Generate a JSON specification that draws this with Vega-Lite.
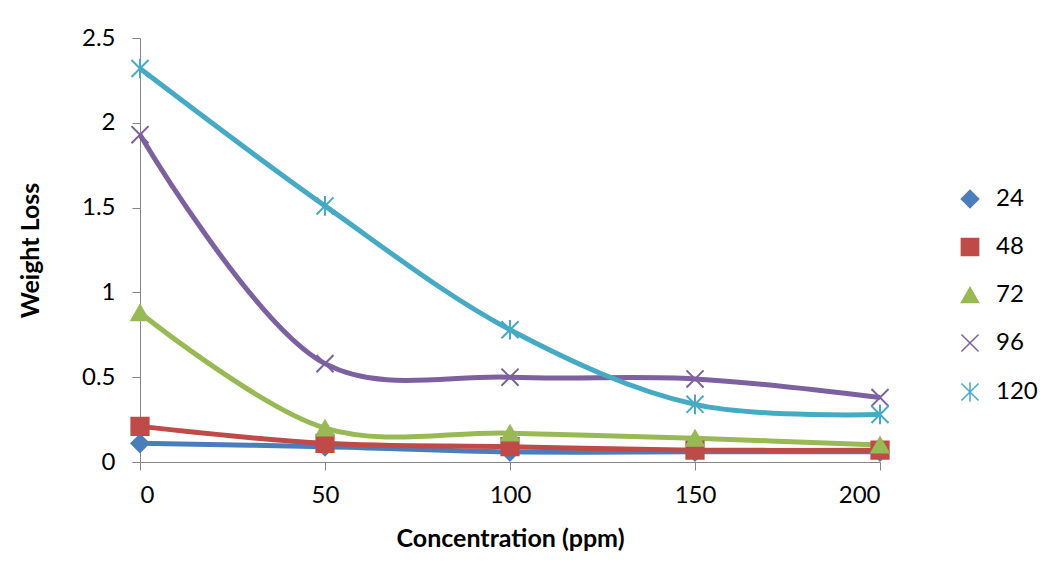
{
  "$schema": "https://vega.github.io/schema/vega-lite/v6.json",
  "width": 740,
  "height": 424,
  "autosize": {"type": "none"},
  "padding": {"left": 140, "top": 38, "right": 176, "bottom": 118},
  "background": "white",
  "config": {
    "view": {"stroke": null},
    "font": "Lato",
    "axis": {
      "grid": false,
      "domainColor": "#868686",
      "tickColor": "#868686",
      "tickSize": 8,
      "labelColor": "black",
      "labelFont": "Lato",
      "labelFontSize": 24,
      "titleFont": "Lato",
      "titleFontSize": 25,
      "titleFontWeight": "bold",
      "titleColor": "black"
    },
    "legend": {"labelFont": "Lato", "labelFontSize": 24, "labelColor": "black"}
  },
  "data": {
    "values": [
      {"series": "24", "conc": 0, "loss": 0.11},
      {"series": "24", "conc": 50, "loss": 0.09},
      {"series": "24", "conc": 100, "loss": 0.06},
      {"series": "24", "conc": 150, "loss": 0.06},
      {"series": "24", "conc": 200, "loss": 0.06},
      {"series": "48", "conc": 0, "loss": 0.21},
      {"series": "48", "conc": 50, "loss": 0.11},
      {"series": "48", "conc": 100, "loss": 0.09},
      {"series": "48", "conc": 150, "loss": 0.07},
      {"series": "48", "conc": 200, "loss": 0.07},
      {"series": "72", "conc": 0, "loss": 0.88},
      {"series": "72", "conc": 50, "loss": 0.2},
      {"series": "72", "conc": 100, "loss": 0.17},
      {"series": "72", "conc": 150, "loss": 0.14},
      {"series": "72", "conc": 200, "loss": 0.1},
      {"series": "96", "conc": 0, "loss": 1.93},
      {"series": "96", "conc": 50, "loss": 0.58},
      {"series": "96", "conc": 100, "loss": 0.5},
      {"series": "96", "conc": 150, "loss": 0.49},
      {"series": "96", "conc": 200, "loss": 0.38},
      {"series": "120", "conc": 0, "loss": 2.32},
      {"series": "120", "conc": 50, "loss": 1.51},
      {"series": "120", "conc": 100, "loss": 0.78},
      {"series": "120", "conc": 150, "loss": 0.34},
      {"series": "120", "conc": 200, "loss": 0.28}
    ]
  },
  "encoding": {
    "x": {
      "field": "conc", "type": "quantitative",
      "scale": {"domain": [0, 200], "nice": false, "zero": false},
      "axis": {"values": [0, 50, 100, 150, 200], "title": "Concentration (ppm)", "labelPadding": 13, "titlePadding": 19}
    },
    "y": {
      "field": "loss", "type": "quantitative",
      "scale": {"domain": [0, 2.5], "nice": false},
      "axis": {"values": [0, 0.5, 1, 1.5, 2, 2.5], "format": "~g", "title": "Weight Loss", "labelPadding": 17, "titlePadding": 38}
    },
    "color": {
      "field": "series", "type": "nominal",
      "scale": {"domain": ["24", "48", "72", "96", "120"], "range": ["#4A7EBB", "#BE4B48", "#98B954", "#7D60A0", "#46AAC5"]},
      "legend": {
        "title": null,
        "orient": "none",
        "legendX": 818,
        "legendY": 149,
        "symbolSize": 180,
        "symbolStrokeWidth": 1.5,
        "labelOffset": 14,
        "rowPadding": 24
      }
    }
  },
  "layer": [
    {
      "mark": {"type": "line", "interpolate": "catmull-rom", "strokeWidth": 5}
    },
    {
      "mark": {"type": "point", "filled": true, "opacity": 1, "strokeWidth": 2},
      "encoding": {
        "shape": {
          "field": "series", "type": "nominal",
          "scale": {"domain": ["24", "48", "72", "96", "120"], "range": ["diamond", "square", "triangle-up", "M-1,-1L1,1M-1,1L1,-1", "M-1,-1L1,1M-1,1L1,-1M0,-1.15L0,1.15"]},
          "legend": null
        },
        "size": {
          "field": "series", "type": "nominal",
          "scale": {"domain": ["24", "48", "72", "96", "120"], "range": [300, 290, 380, 340, 340]},
          "legend": null
        },
        "stroke": {
          "field": "series", "type": "nominal",
          "scale": {"domain": ["24", "48", "72", "96", "120"], "range": ["#4A7EBB", "#BE4B48", "#98B954", "#7D60A0", "#46AAC5"]},
          "legend": null
        }
      }
    }
  ]
}
